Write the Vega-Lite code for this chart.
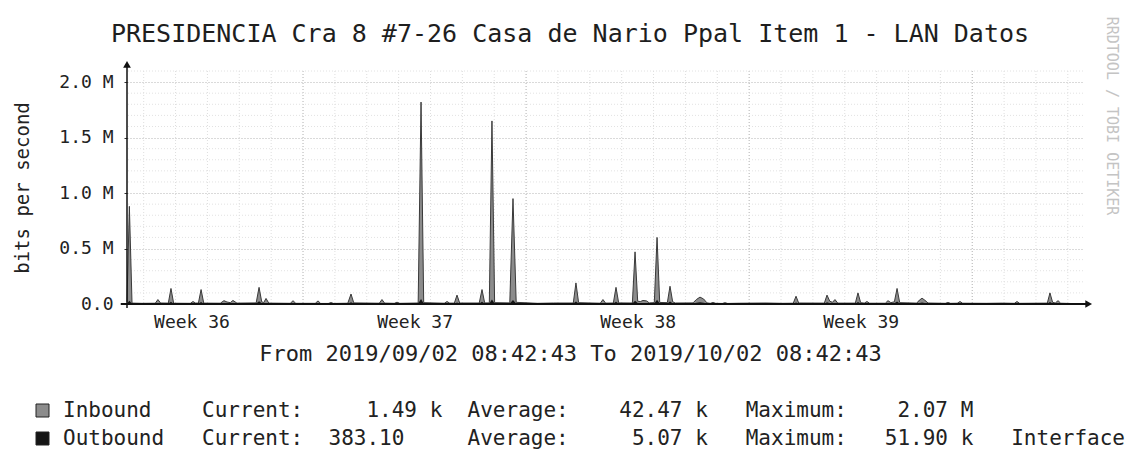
{
  "$schema": "https://vega.github.io/schema/vega-lite/v6.json",
  "width": 956,
  "height": 233,
  "autosize": {"type": "none"},
  "padding": {"left": 127, "top": 71, "right": 49, "bottom": 151},
  "background": "#ffffff",
  "config": {"view": {"stroke": null}, "font": "DejaVu Sans Mono"},
  "title": {
    "text": "PRESIDENCIA Cra 8 #7-26 Casa de Nario Ppal Item 1 - LAN Datos",
    "font": "DejaVu Sans Mono",
    "fontSize": 25,
    "fontWeight": "normal",
    "color": "#1e1e1e",
    "anchor": "middle",
    "dx": -35,
    "dy": 30,
    "offset": 0
  },
  "datasets": {
    "traffic": [
      {"t": "2019-09-02T08:43:00Z", "inbound": 20000, "outbound": 4000},
      {"t": "2019-09-02T10:30:00Z", "inbound": 880000, "outbound": 30000},
      {"t": "2019-09-02T12:30:00Z", "inbound": 8000, "outbound": 3000},
      {"t": "2019-09-02T20:00:00Z", "inbound": 6000, "outbound": 3000},
      {"t": "2019-09-03T06:00:00Z", "inbound": 7000, "outbound": 3000},
      {"t": "2019-09-03T08:00:00Z", "inbound": 40000, "outbound": 8000},
      {"t": "2019-09-03T10:00:00Z", "inbound": 9000, "outbound": 3000},
      {"t": "2019-09-03T15:50:00Z", "inbound": 8000, "outbound": 4000},
      {"t": "2019-09-03T17:50:00Z", "inbound": 140000, "outbound": 20000},
      {"t": "2019-09-03T19:50:00Z", "inbound": 7000, "outbound": 3000},
      {"t": "2019-09-04T08:25:00Z", "inbound": 6000, "outbound": 3000},
      {"t": "2019-09-04T10:25:00Z", "inbound": 22000, "outbound": 6000},
      {"t": "2019-09-04T12:25:00Z", "inbound": 8000, "outbound": 3000},
      {"t": "2019-09-04T14:30:00Z", "inbound": 9000, "outbound": 4000},
      {"t": "2019-09-04T16:30:00Z", "inbound": 130000, "outbound": 18000},
      {"t": "2019-09-04T18:30:00Z", "inbound": 8000, "outbound": 3000},
      {"t": "2019-09-05T07:00:00Z", "inbound": 7000, "outbound": 3000},
      {"t": "2019-09-05T09:45:00Z", "inbound": 30000, "outbound": 8000},
      {"t": "2019-09-05T12:00:00Z", "inbound": 18000, "outbound": 6000},
      {"t": "2019-09-05T14:30:00Z", "inbound": 12000, "outbound": 4000},
      {"t": "2019-09-05T16:30:00Z", "inbound": 32000, "outbound": 9000},
      {"t": "2019-09-05T19:30:00Z", "inbound": 8000, "outbound": 3000},
      {"t": "2019-09-06T10:00:00Z", "inbound": 10000, "outbound": 4000},
      {"t": "2019-09-06T12:10:00Z", "inbound": 150000, "outbound": 25000},
      {"t": "2019-09-06T14:10:00Z", "inbound": 20000, "outbound": 6000},
      {"t": "2019-09-06T15:40:00Z", "inbound": 12000, "outbound": 4000},
      {"t": "2019-09-06T17:25:00Z", "inbound": 50000, "outbound": 10000},
      {"t": "2019-09-06T19:30:00Z", "inbound": 8000, "outbound": 3000},
      {"t": "2019-09-07T11:45:00Z", "inbound": 6000, "outbound": 3000},
      {"t": "2019-09-07T13:45:00Z", "inbound": 30000, "outbound": 6000},
      {"t": "2019-09-07T15:45:00Z", "inbound": 6000, "outbound": 3000},
      {"t": "2019-09-08T06:30:00Z", "inbound": 6000, "outbound": 3000},
      {"t": "2019-09-08T08:35:00Z", "inbound": 28000, "outbound": 5000},
      {"t": "2019-09-08T10:35:00Z", "inbound": 5000, "outbound": 3000},
      {"t": "2019-09-08T16:20:00Z", "inbound": 5000, "outbound": 3000},
      {"t": "2019-09-08T18:20:00Z", "inbound": 13000, "outbound": 4000},
      {"t": "2019-09-08T20:20:00Z", "inbound": 5000, "outbound": 3000},
      {"t": "2019-09-09T07:00:00Z", "inbound": 7000, "outbound": 3000},
      {"t": "2019-09-09T09:25:00Z", "inbound": 90000, "outbound": 15000},
      {"t": "2019-09-09T11:30:00Z", "inbound": 10000, "outbound": 4000},
      {"t": "2019-09-10T06:45:00Z", "inbound": 7000, "outbound": 3000},
      {"t": "2019-09-10T08:45:00Z", "inbound": 40000, "outbound": 9000},
      {"t": "2019-09-10T10:45:00Z", "inbound": 8000, "outbound": 3000},
      {"t": "2019-09-10T18:00:00Z", "inbound": 6000, "outbound": 3000},
      {"t": "2019-09-10T20:05:00Z", "inbound": 16000, "outbound": 5000},
      {"t": "2019-09-10T22:05:00Z", "inbound": 6000, "outbound": 3000},
      {"t": "2019-09-11T12:00:00Z", "inbound": 9000, "outbound": 4000},
      {"t": "2019-09-11T14:10:00Z", "inbound": 1820000, "outbound": 45000},
      {"t": "2019-09-11T16:10:00Z", "inbound": 12000, "outbound": 5000},
      {"t": "2019-09-12T07:40:00Z", "inbound": 7000, "outbound": 3000},
      {"t": "2019-09-12T09:45:00Z", "inbound": 22000, "outbound": 6000},
      {"t": "2019-09-12T11:45:00Z", "inbound": 8000, "outbound": 3000},
      {"t": "2019-09-12T15:15:00Z", "inbound": 8000, "outbound": 3000},
      {"t": "2019-09-12T17:15:00Z", "inbound": 80000, "outbound": 14000},
      {"t": "2019-09-12T19:15:00Z", "inbound": 9000, "outbound": 4000},
      {"t": "2019-09-13T10:00:00Z", "inbound": 9000, "outbound": 4000},
      {"t": "2019-09-13T12:05:00Z", "inbound": 130000, "outbound": 20000},
      {"t": "2019-09-13T14:05:00Z", "inbound": 10000, "outbound": 4000},
      {"t": "2019-09-13T17:35:00Z", "inbound": 10000, "outbound": 4000},
      {"t": "2019-09-13T19:35:00Z", "inbound": 1650000, "outbound": 40000},
      {"t": "2019-09-13T21:35:00Z", "inbound": 12000, "outbound": 5000},
      {"t": "2019-09-14T09:00:00Z", "inbound": 10000, "outbound": 4000},
      {"t": "2019-09-14T11:25:00Z", "inbound": 950000, "outbound": 35000},
      {"t": "2019-09-14T13:50:00Z", "inbound": 15000, "outbound": 5000},
      {"t": "2019-09-15T06:00:00Z", "inbound": 6000, "outbound": 3000},
      {"t": "2019-09-15T18:00:00Z", "inbound": 9000, "outbound": 3000},
      {"t": "2019-09-16T08:50:00Z", "inbound": 9000, "outbound": 4000},
      {"t": "2019-09-16T10:50:00Z", "inbound": 190000, "outbound": 22000},
      {"t": "2019-09-16T12:50:00Z", "inbound": 12000, "outbound": 4000},
      {"t": "2019-09-17T05:10:00Z", "inbound": 7000, "outbound": 3000},
      {"t": "2019-09-17T07:10:00Z", "inbound": 40000, "outbound": 9000},
      {"t": "2019-09-17T09:10:00Z", "inbound": 8000, "outbound": 3000},
      {"t": "2019-09-17T15:00:00Z", "inbound": 9000, "outbound": 4000},
      {"t": "2019-09-17T17:00:00Z", "inbound": 150000, "outbound": 20000},
      {"t": "2019-09-17T19:00:00Z", "inbound": 10000, "outbound": 4000},
      {"t": "2019-09-18T05:20:00Z", "inbound": 9000, "outbound": 4000},
      {"t": "2019-09-18T07:20:00Z", "inbound": 470000, "outbound": 30000},
      {"t": "2019-09-18T09:20:00Z", "inbound": 25000, "outbound": 8000},
      {"t": "2019-09-18T11:20:00Z", "inbound": 22000, "outbound": 7000},
      {"t": "2019-09-18T13:20:00Z", "inbound": 32000, "outbound": 10000},
      {"t": "2019-09-18T16:00:00Z", "inbound": 28000, "outbound": 8000},
      {"t": "2019-09-18T18:00:00Z", "inbound": 10000, "outbound": 4000},
      {"t": "2019-09-18T21:50:00Z", "inbound": 12000, "outbound": 5000},
      {"t": "2019-09-18T23:55:00Z", "inbound": 600000, "outbound": 38000},
      {"t": "2019-09-19T01:55:00Z", "inbound": 14000, "outbound": 5000},
      {"t": "2019-09-19T07:40:00Z", "inbound": 12000, "outbound": 4000},
      {"t": "2019-09-19T09:40:00Z", "inbound": 160000, "outbound": 22000},
      {"t": "2019-09-19T11:40:00Z", "inbound": 20000, "outbound": 6000},
      {"t": "2019-09-19T13:40:00Z", "inbound": 9000, "outbound": 3000},
      {"t": "2019-09-20T03:00:00Z", "inbound": 10000, "outbound": 4000},
      {"t": "2019-09-20T05:30:00Z", "inbound": 40000, "outbound": 12000},
      {"t": "2019-09-20T08:15:00Z", "inbound": 62000, "outbound": 15000},
      {"t": "2019-09-20T11:00:00Z", "inbound": 45000, "outbound": 12000},
      {"t": "2019-09-20T13:30:00Z", "inbound": 10000, "outbound": 4000},
      {"t": "2019-09-20T16:00:00Z", "inbound": 6000, "outbound": 3000},
      {"t": "2019-09-20T18:05:00Z", "inbound": 14000, "outbound": 4000},
      {"t": "2019-09-20T20:05:00Z", "inbound": 6000, "outbound": 3000},
      {"t": "2019-09-21T01:05:00Z", "inbound": 5000, "outbound": 3000},
      {"t": "2019-09-21T03:05:00Z", "inbound": 12000, "outbound": 4000},
      {"t": "2019-09-21T05:05:00Z", "inbound": 5000, "outbound": 3000},
      {"t": "2019-09-21T14:00:00Z", "inbound": 7000, "outbound": 3000},
      {"t": "2019-09-22T10:00:00Z", "inbound": 9000, "outbound": 3000},
      {"t": "2019-09-22T22:00:00Z", "inbound": 6000, "outbound": 3000},
      {"t": "2019-09-23T06:30:00Z", "inbound": 7000, "outbound": 3000},
      {"t": "2019-09-23T08:35:00Z", "inbound": 70000, "outbound": 14000},
      {"t": "2019-09-23T10:35:00Z", "inbound": 9000, "outbound": 4000},
      {"t": "2019-09-24T05:55:00Z", "inbound": 8000, "outbound": 3000},
      {"t": "2019-09-24T07:55:00Z", "inbound": 80000, "outbound": 15000},
      {"t": "2019-09-24T10:00:00Z", "inbound": 25000, "outbound": 7000},
      {"t": "2019-09-24T12:00:00Z", "inbound": 15000, "outbound": 5000},
      {"t": "2019-09-24T13:55:00Z", "inbound": 40000, "outbound": 10000},
      {"t": "2019-09-24T16:00:00Z", "inbound": 8000, "outbound": 3000},
      {"t": "2019-09-25T05:15:00Z", "inbound": 8000, "outbound": 3000},
      {"t": "2019-09-25T07:15:00Z", "inbound": 100000, "outbound": 18000},
      {"t": "2019-09-25T09:15:00Z", "inbound": 12000, "outbound": 4000},
      {"t": "2019-09-25T12:00:00Z", "inbound": 8000, "outbound": 3000},
      {"t": "2019-09-25T14:00:00Z", "inbound": 22000, "outbound": 6000},
      {"t": "2019-09-25T16:00:00Z", "inbound": 7000, "outbound": 3000},
      {"t": "2019-09-26T03:50:00Z", "inbound": 7000, "outbound": 3000},
      {"t": "2019-09-26T05:50:00Z", "inbound": 30000, "outbound": 8000},
      {"t": "2019-09-26T08:00:00Z", "inbound": 12000, "outbound": 4000},
      {"t": "2019-09-26T10:40:00Z", "inbound": 20000, "outbound": 6000},
      {"t": "2019-09-26T12:40:00Z", "inbound": 140000, "outbound": 22000},
      {"t": "2019-09-26T14:40:00Z", "inbound": 12000, "outbound": 4000},
      {"t": "2019-09-27T03:30:00Z", "inbound": 8000, "outbound": 3000},
      {"t": "2019-09-27T05:30:00Z", "inbound": 35000, "outbound": 10000},
      {"t": "2019-09-27T07:30:00Z", "inbound": 52000, "outbound": 14000},
      {"t": "2019-09-27T09:30:00Z", "inbound": 35000, "outbound": 10000},
      {"t": "2019-09-27T12:00:00Z", "inbound": 9000, "outbound": 3000},
      {"t": "2019-09-28T01:00:00Z", "inbound": 6000, "outbound": 3000},
      {"t": "2019-09-28T03:00:00Z", "inbound": 14000, "outbound": 5000},
      {"t": "2019-09-28T05:00:00Z", "inbound": 6000, "outbound": 3000},
      {"t": "2019-09-28T10:00:00Z", "inbound": 7000, "outbound": 3000},
      {"t": "2019-09-28T12:05:00Z", "inbound": 22000, "outbound": 6000},
      {"t": "2019-09-28T14:05:00Z", "inbound": 7000, "outbound": 3000},
      {"t": "2019-09-29T08:00:00Z", "inbound": 6000, "outbound": 3000},
      {"t": "2019-09-29T20:00:00Z", "inbound": 8000, "outbound": 3000},
      {"t": "2019-09-30T05:00:00Z", "inbound": 6000, "outbound": 3000},
      {"t": "2019-09-30T07:00:00Z", "inbound": 22000, "outbound": 6000},
      {"t": "2019-09-30T09:00:00Z", "inbound": 6000, "outbound": 3000},
      {"t": "2019-10-01T05:50:00Z", "inbound": 8000, "outbound": 3000},
      {"t": "2019-10-01T07:50:00Z", "inbound": 100000, "outbound": 18000},
      {"t": "2019-10-01T09:50:00Z", "inbound": 15000, "outbound": 5000},
      {"t": "2019-10-01T11:50:00Z", "inbound": 9000, "outbound": 3000},
      {"t": "2019-10-01T13:55:00Z", "inbound": 30000, "outbound": 8000},
      {"t": "2019-10-01T15:55:00Z", "inbound": 7000, "outbound": 3000},
      {"t": "2019-10-02T08:42:00Z", "inbound": 1490, "outbound": 383}
    ],
    "grid": [
      {"t": "2019-09-02T21:17:00Z", "major": false},
      {"t": "2019-09-03T21:17:00Z", "major": false},
      {"t": "2019-09-04T21:17:00Z", "major": false},
      {"t": "2019-09-05T21:17:00Z", "major": false},
      {"t": "2019-09-06T21:17:00Z", "major": false},
      {"t": "2019-09-07T21:17:00Z", "major": true},
      {"t": "2019-09-08T21:17:00Z", "major": false},
      {"t": "2019-09-09T21:17:00Z", "major": false},
      {"t": "2019-09-10T21:17:00Z", "major": false},
      {"t": "2019-09-11T21:17:00Z", "major": false},
      {"t": "2019-09-12T21:17:00Z", "major": false},
      {"t": "2019-09-13T21:17:00Z", "major": false},
      {"t": "2019-09-14T21:17:00Z", "major": true},
      {"t": "2019-09-15T21:17:00Z", "major": false},
      {"t": "2019-09-16T21:17:00Z", "major": false},
      {"t": "2019-09-17T21:17:00Z", "major": false},
      {"t": "2019-09-18T21:17:00Z", "major": false},
      {"t": "2019-09-19T21:17:00Z", "major": false},
      {"t": "2019-09-20T21:17:00Z", "major": false},
      {"t": "2019-09-21T21:17:00Z", "major": true},
      {"t": "2019-09-22T21:17:00Z", "major": false},
      {"t": "2019-09-23T21:17:00Z", "major": false},
      {"t": "2019-09-24T21:17:00Z", "major": false},
      {"t": "2019-09-25T21:17:00Z", "major": false},
      {"t": "2019-09-26T21:17:00Z", "major": false},
      {"t": "2019-09-27T21:17:00Z", "major": false},
      {"t": "2019-09-28T21:17:00Z", "major": true},
      {"t": "2019-09-29T21:17:00Z", "major": false},
      {"t": "2019-09-30T21:17:00Z", "major": false},
      {"t": "2019-10-01T21:17:00Z", "major": false}
    ],
    "hgrid": [
      {"v": 100000}, {"v": 200000}, {"v": 300000}, {"v": 400000},
      {"v": 600000}, {"v": 700000}, {"v": 800000}, {"v": 900000},
      {"v": 1100000}, {"v": 1200000}, {"v": 1300000}, {"v": 1400000},
      {"v": 1600000}, {"v": 1700000}, {"v": 1800000}, {"v": 1900000},
      {"v": 2100000}
    ]
  },
  "layer": [
    {
      "data": {"name": "grid"},
      "mark": {"type": "rule", "strokeWidth": 1, "strokeDash": [1, 2]},
      "encoding": {
        "x": {"field": "t", "type": "temporal", "scale": {"type": "utc", "domain": [{"year": 2019, "month": 9, "date": 2, "hours": 8, "minutes": 42, "seconds": 43, "utc": true}, {"year": 2019, "month": 10, "date": 2, "hours": 8, "minutes": 42, "seconds": 43, "utc": true}], "nice": false}},
        "color": {"condition": {"test": "datum.major", "value": "#b0b0b0"}, "value": "#dedede"}
      }
    },
    {
      "data": {"name": "hgrid"},
      "mark": {"type": "rule", "strokeWidth": 1, "strokeDash": [1, 2], "color": "#e2e2e2"},
      "encoding": {
        "y": {"field": "v", "type": "quantitative"}
      }
    },
    {
      "data": {"name": "traffic"},
      "mark": {"type": "area", "interpolate": "linear"},
      "encoding": {
        "x": {
          "field": "t",
          "type": "temporal",
          "scale": {"type": "utc", "domain": [{"year": 2019, "month": 9, "date": 2, "hours": 8, "minutes": 42, "seconds": 43, "utc": true}, {"year": 2019, "month": 10, "date": 2, "hours": 8, "minutes": 42, "seconds": 43, "utc": true}], "nice": false},
          "axis": {
            "values": [
              {"year": 2019, "month": 9, "date": 4, "hours": 9, "minutes": 17, "utc": true},
              {"year": 2019, "month": 9, "date": 11, "hours": 9, "minutes": 17, "utc": true},
              {"year": 2019, "month": 9, "date": 18, "hours": 9, "minutes": 17, "utc": true},
              {"year": 2019, "month": 9, "date": 25, "hours": 9, "minutes": 17, "utc": true}
            ],
            "labelExpr": "'Week ' + (36 + (utcdate(datum.value) - 4) / 7)",
            "domain": false,
            "ticks": false,
            "grid": false,
            "labelFlush": false,
            "labelOverlap": false,
            "labelFont": "DejaVu Sans Mono",
            "labelFontSize": 18,
            "labelColor": "#222222",
            "labelPadding": 9,
            "title": "From 2019/09/02 08:42:43 To 2019/10/02 08:42:43",
            "titleFont": "DejaVu Sans Mono",
            "titleFontSize": 22,
            "titleFontWeight": "normal",
            "titleColor": "#222222",
            "titlePadding": 12,
            "titleX": 443
          }
        },
        "y": {
          "field": "inbound",
          "type": "quantitative",
          "scale": {"domain": [0, 2100000], "nice": false, "zero": true},
          "axis": {
            "values": [0, 500000, 1000000, 1500000, 2000000],
            "labelExpr": "datum.value == 0 ? '0.0\u00a0\u00a0' : format(datum.value / 1000000, '.1f') + '\u00a0M'",
            "labelOverlap": false,
            "labelFlush": false,
            "domain": false,
            "ticks": true,
            "tickSize": 3,
            "tickColor": "#333333",
            "grid": true,
            "gridColor": "#b5b5b5",
            "gridDash": [1, 2],
            "labelFont": "DejaVu Sans Mono",
            "labelFontSize": 18,
            "labelColor": "#222222",
            "labelPadding": 11,
            "title": "bits per second",
            "titleFont": "DejaVu Sans Mono",
            "titleFontSize": 19,
            "titleFontWeight": "normal",
            "titleColor": "#222222",
            "titlePadding": 26
          }
        },
        "color": {
          "datum": "Inbound",
          "scale": {"domain": ["Inbound", "Outbound"], "range": ["#8c8c8c", "#151515"]},
          "legend": {
            "orient": "none",
            "legendX": -95,
            "legendY": 329,
            "direction": "vertical",
            "title": null,
            "symbolType": "square",
            "symbolSize": 169,
            "symbolStrokeColor": "#222222",
            "symbolStrokeWidth": 1,
            "symbolOpacity": 1,
            "labelFont": "DejaVu Sans Mono",
            "labelFontSize": 21,
            "labelColor": "#222222",
            "labelLimit": 1200,
            "labelOffset": 10,
            "rowPadding": 6,
            "padding": 0,
            "labelExpr": "datum.label == 'Inbound' ? 'Inbound\u00a0\u00a0\u00a0\u00a0Current:\u00a0\u00a0\u00a0\u00a0\u00a01.49\u00a0k\u00a0\u00a0Average:\u00a0\u00a0\u00a0\u00a042.47\u00a0k\u00a0\u00a0\u00a0Maximum:\u00a0\u00a0\u00a0\u00a02.07\u00a0M' : 'Outbound\u00a0\u00a0\u00a0Current:\u00a0\u00a0383.10\u00a0\u00a0\u00a0\u00a0\u00a0Average:\u00a0\u00a0\u00a0\u00a0\u00a05.07\u00a0k\u00a0\u00a0\u00a0Maximum:\u00a0\u00a0\u00a051.90\u00a0k\u00a0\u00a0\u00a0Interface'"
          }
        }
      }
    },
    {
      "data": {"name": "traffic"},
      "mark": {"type": "line", "interpolate": "linear", "color": "#3a3a3a", "strokeWidth": 1},
      "encoding": {
        "x": {"field": "t", "type": "temporal"},
        "y": {"field": "inbound", "type": "quantitative"}
      }
    },
    {
      "data": {"name": "traffic"},
      "mark": {"type": "area", "interpolate": "linear"},
      "encoding": {
        "x": {"field": "t", "type": "temporal"},
        "y": {"field": "outbound", "type": "quantitative"},
        "color": {"datum": "Outbound"}
      }
    },
    {
      "data": {"values": [{}]},
      "mark": {"type": "rule", "color": "#111111", "strokeWidth": 2},
      "encoding": {
        "x": {"datum": {"year": 2019, "month": 9, "date": 2, "hours": 4, "utc": true}, "type": "temporal"},
        "x2": {"datum": {"year": 2019, "month": 10, "date": 2, "hours": 12, "utc": true}},
        "y": {"datum": 0, "type": "quantitative"}
      }
    },
    {
      "data": {"values": [{}]},
      "mark": {"type": "rule", "color": "#111111", "strokeWidth": 1.5},
      "encoding": {
        "x": {"datum": {"year": 2019, "month": 9, "date": 2, "hours": 8, "minutes": 42, "seconds": 43, "utc": true}, "type": "temporal"},
        "y": {"datum": -35000, "type": "quantitative"},
        "y2": {"datum": 2140000}
      }
    },
    {
      "data": {"values": [{}]},
      "mark": {"type": "point", "shape": "triangle-right", "filled": true, "size": 60, "color": "#111111", "opacity": 1},
      "encoding": {
        "x": {"datum": {"year": 2019, "month": 10, "date": 2, "hours": 13, "utc": true}, "type": "temporal"},
        "y": {"datum": 0, "type": "quantitative"}
      }
    },
    {
      "data": {"values": [{}]},
      "mark": {"type": "point", "shape": "triangle-up", "filled": true, "size": 60, "color": "#111111", "opacity": 1},
      "encoding": {
        "x": {"datum": {"year": 2019, "month": 9, "date": 2, "hours": 8, "minutes": 42, "seconds": 43, "utc": true}, "type": "temporal"},
        "y": {"datum": 2160000, "type": "quantitative"}
      }
    },
    {
      "data": {"values": [{"label": "RRDTOOL / TOBI OETIKER"}]},
      "mark": {"type": "text", "angle": 90, "align": "center", "baseline": "middle", "font": "DejaVu Sans Mono", "fontSize": 15, "color": "#c4c4c4"},
      "encoding": {
        "x": {"datum": {"year": 2019, "month": 10, "date": 3, "hours": 6, "minutes": 34, "utc": true}, "type": "temporal"},
        "y": {"datum": 1694000, "type": "quantitative"},
        "text": {"field": "label"}
      }
    }
  ]
}
